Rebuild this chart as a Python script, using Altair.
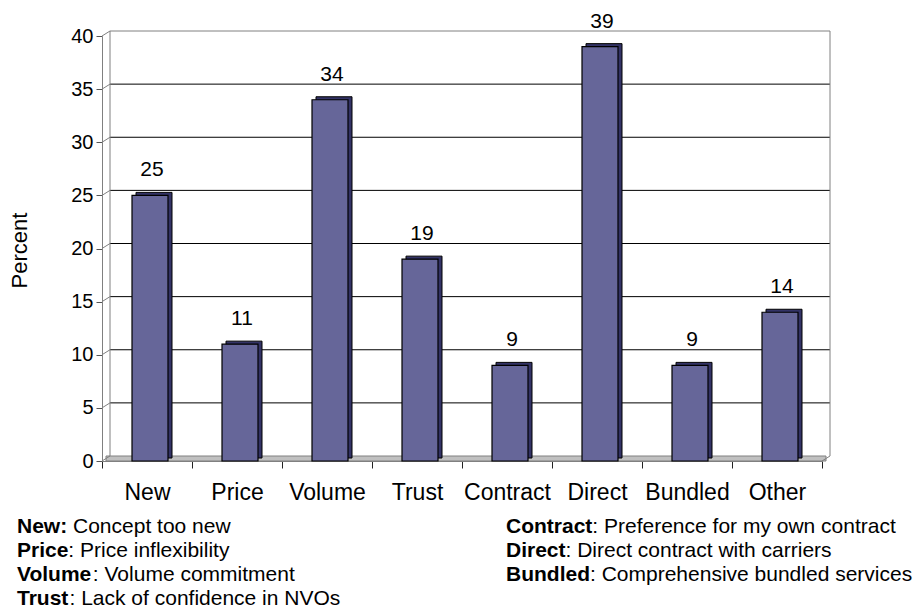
import altair as alt
import pandas as pd

# Survey: reasons for not using NVOs (percent of respondents)
categories = ["New", "Price", "Volume", "Trust", "Contract", "Direct", "Bundled", "Other"]
percents = [25, 11, 34, 19, 9, 39, 9, 14]

y_ticks = [0, 5, 10, 15, 20, 25, 30, 35, 40]
grid_values = [5, 10, 15, 20, 25, 30, 35]

note_left_terms = ["New:", "Price", "Volume", "Trust"]
note_left_texts = ["Concept too new", ": Price inflexibility", ": Volume commitment",
                   ": Lack of confidence in NVOs"]
note_right_terms = ["Contract", "Direct", "Bundled"]
note_right_texts = [": Preference for my own contract", ": Direct contract with carriers",
                    ": Comprehensive bundled services"]

# ---- layout -------------------------------------------------------------
W, H = 720, 425          # front plane of the plot
PAD_L, PAD_T = 102, 36
DX, DY = 8, 5            # depth offset of the back wall

FRONT = "#666699"
SIDE = "#333366"
WALL_LINE = "#808080"
FLOOR = "#c0c0c0"
NARROW = "Liberation Sans Narrow, Arial Narrow, Liberation Sans, Arial, sans-serif"
SANS = "Liberation Sans, Arial, sans-serif"
NOTE_SIZE = 21

# Arial Bold advance widths (1/1000 em) for the bold terms of the notes
BOLD_W = {" ": 278, ":": 333, "B": 722, "C": 722, "D": 722, "N": 722, "P": 667,
          "T": 611, "V": 667, "a": 556, "c": 556, "d": 611, "e": 556, "i": 278,
          "l": 278, "m": 889, "n": 611, "o": 611, "r": 389, "t": 333, "u": 611,
          "w": 778}


def bold_width(s, size):
    return sum(BOLD_W.get(ch, 556) for ch in s) * size / 1000.0


def gap_after(term, size):
    # a plain space follows a term that already carries its colon
    return 278 * size / 1000.0 if term.endswith(":") else 0.0


y_scale = alt.Scale(domain=[0, 40], nice=False, zero=True)
y_axis = alt.Axis(values=y_ticks, grid=False, tickSize=6, tickColor="#555555",
                  domainColor=WALL_LINE, labelFont=NARROW, labelFontSize=20,
                  labelColor="black", labelPadding=3, title="Percent",
                  titleFont=SANS, titleFontSize=22, titleFontWeight="normal",
                  titleColor="black", titleX=19 - PAD_L, titleY=250 - PAD_T,
                  titleAlign="center", titleBaseline="middle", titleAngle=270)


def yq(field):
    return alt.Y(f"{field}:Q", scale=y_scale, axis=y_axis)


x_enc = alt.X("category:N", sort=categories,
              scale=alt.Scale(domain=categories, paddingInner=0, paddingOuter=0),
              axis=alt.Axis(tickBand="extent", tickSize=7, tickColor="#222222",
                            domainColor=WALL_LINE, labelFont=NARROW, labelFontSize=23,
                            labelColor="black", labelAngle=0, labelBaseline="middle",
                            labelPadding=24, title=None))

bars_df = pd.DataFrame({"category": categories, "percent": percents})
grid_df = pd.DataFrame({"percent": grid_values})
tick_df = pd.DataFrame({"percent": y_ticks})
top_df = pd.DataFrame({"percent": [40]})
wall_df = pd.DataFrame({"percent": [0], "top": [40]})
zero_df = pd.DataFrame({"percent": [0]})

# floor of the 3-D box
floor = alt.Chart(zero_df).mark_rect(
    fill=FLOOR, stroke=WALL_LINE, strokeWidth=1, y2Offset=-DY
).encode(x=alt.value(DX / 2), x2=alt.value(W + DX / 2), y=yq("percent"), y2="percent")

floor_edge = alt.Chart(zero_df).mark_rule(color=WALL_LINE, y2Offset=-DY).encode(
    x=alt.value(W), x2=alt.value(W + DX), y=yq("percent"), y2="percent")

# gridlines on the back wall
grid = alt.Chart(grid_df).mark_rule(
    color="black", strokeWidth=1, yOffset=-DY
).encode(x=alt.value(DX), x2=alt.value(W + DX), y=yq("percent"))

top_edge = alt.Chart(top_df).mark_rule(color=WALL_LINE, yOffset=-DY).encode(
    x=alt.value(DX), x2=alt.value(W + DX), y=yq("percent"))

back_left = alt.Chart(wall_df).mark_rule(
    color=WALL_LINE, yOffset=-DY, y2Offset=-DY
).encode(x=alt.value(DX), y=yq("percent"), y2="top")

back_right = alt.Chart(wall_df).mark_rule(
    color=WALL_LINE, yOffset=-DY, y2Offset=-DY
).encode(x=alt.value(W + DX), y=yq("percent"), y2="top")

# gridline diagonals across the left side wall
side = alt.Chart(tick_df).mark_rule(color=WALL_LINE, y2Offset=-DY).encode(
    x=alt.value(0), x2=alt.value(DX), y=yq("percent"), y2="percent")

# 3-D columns: dark extrusion behind, front face on top
depth = alt.Chart(bars_df).mark_bar(
    width=alt.RelativeBandSize(0.4), fill=SIDE, stroke="black", strokeWidth=1,
    xOffset=7, x2Offset=7, yOffset=-3, y2Offset=-3
).encode(x=x_enc, y=yq("percent"))

front = alt.Chart(bars_df).mark_bar(
    width=alt.RelativeBandSize(0.4), fill=FRONT, stroke="black", strokeWidth=1.2,
    xOffset=3, x2Offset=3
).encode(x=x_enc, y=yq("percent"))

values = alt.Chart(bars_df).mark_text(
    font=NARROW, fontSize=21, color="black", baseline="middle", dx=5, dy=-25
).encode(x=x_enc, y=yq("percent"), text="percent:Q")

# notes below the chart
note_layers = []
columns = [(17 - PAD_L, note_left_terms, note_left_texts),
           (506 - PAD_L, note_right_terms, note_right_texts)]
for x0, terms, texts in columns:
    for i, (term, rest) in enumerate(zip(terms, texts)):
        y0 = 527 - PAD_T + 24 * i
        note_layers.append(
            alt.Chart(pd.DataFrame({"t": [term]})).mark_text(
                font=SANS, fontSize=NOTE_SIZE, fontWeight="bold", color="black",
                align="left", baseline="middle"
            ).encode(x=alt.value(x0), y=alt.value(y0), text="t:N"))
        rest_x = x0 + bold_width(term, NOTE_SIZE) + gap_after(term, NOTE_SIZE)
        note_layers.append(
            alt.Chart(pd.DataFrame({"t": [rest]})).mark_text(
                font=SANS, fontSize=NOTE_SIZE, color="black",
                align="left", baseline="middle"
            ).encode(x=alt.value(rest_x), y=alt.value(y0), text="t:N"))

chart = alt.layer(
    floor, floor_edge, grid, top_edge, back_left, back_right, side,
    depth, front, values, *note_layers
).properties(
    width=W, height=H,
    autosize=alt.AutoSizeParams(type="none"),
    padding={"left": PAD_L, "top": PAD_T, "right": 916 - PAD_L - W, "bottom": 613 - PAD_T - H},
    background="white",
).configure_view(stroke=None)

chart.save("out.html", embed_options={"renderer": "svg", "actions": False})
